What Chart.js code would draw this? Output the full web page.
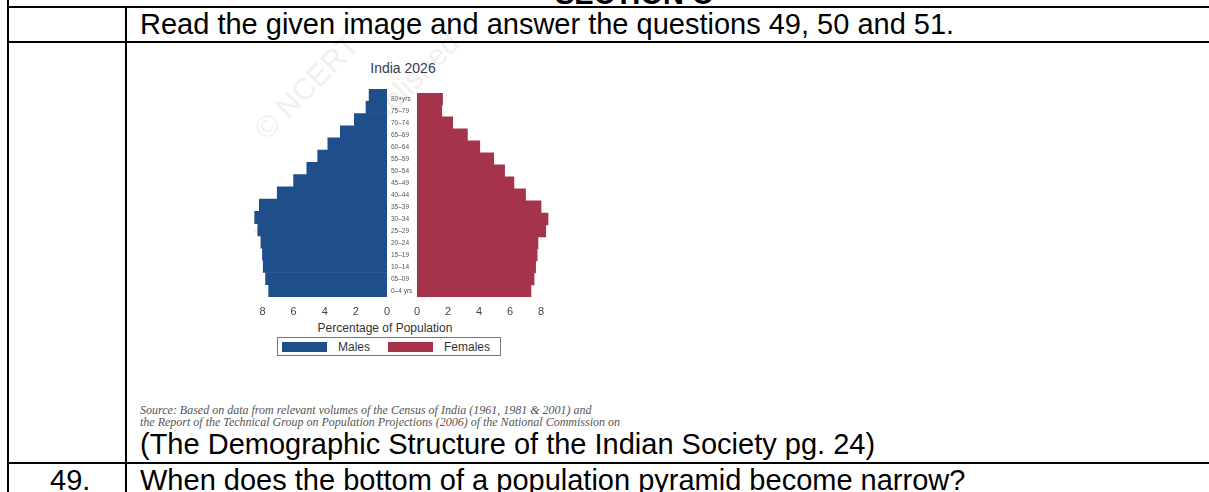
<!DOCTYPE html>
<html>
<head>
<meta charset="utf-8">
<script src="https://cdn.jsdelivr.net/npm/chart.js@4.4.1/dist/chart.umd.min.js"></script>
<style>
    html, body { margin: 0; padding: 0; background: #fff; }
    body { width: 1209px; height: 492px; position: relative; overflow: hidden; font-family: "Liberation Sans", Arial, sans-serif; }
    .hl { position: absolute; height: 2px; background: #000; }
    .vl { position: absolute; width: 2px; background: #000; }
    .big { position: absolute; white-space: nowrap; color: #000; font-size: 29px; line-height: 1; }
    .mark { position: absolute; white-space: nowrap; color: #f0f0f0; font-size: 30px; transform: rotate(-45deg); transform-origin: center; }
    #maleWrap, #femaleWrap { position: absolute; top: 89px; height: 228px; }
    #maleWrap { left: 250px; width: 141px; }
    #femaleWrap { left: 391px; width: 168px; }
    #title { position: absolute; left: 303px; width: 200px; top: 60px; text-align: center; font-size: 14px; color: #343c50; }
    #xTitle { position: absolute; left: 285px; width: 200px; top: 321px; text-align: center; font-size: 12px; color: #333; }
    #legend { position: absolute; left: 277px; top: 337px; width: 218px; height: 17px; border: 1px solid #777; display: flex; align-items: center; padding-left: 4px; box-sizing: content-box; font-size: 12px; color: #333; }
    #legend .sw { width: 45px; height: 10px; margin-right: 11px; }
    #legend .item { display: flex; align-items: center; margin-right: 18px; }
    #source { position: absolute; left: 140px; top: 404px; font-family: "Liberation Serif", serif; font-style: italic; font-size: 12px; line-height: 12px; color: #555; white-space: nowrap; }
</style>
</head>
<body>
<div class="mark" style="left:240px; top:70px;">© NCERT</div>
<div class="mark" style="left:215px; top:120px;">not to be republished</div>

<div class="hl" style="left:7px; top:6px; width:1202px;"></div>
<div class="hl" style="left:7px; top:41px; width:1202px;"></div>
<div class="hl" style="left:7px; top:462px; width:1202px;"></div>
<div class="vl" style="left:7px; top:0; height:492px;"></div>
<div class="vl" style="left:125px; top:6px; height:486px;"></div>

<div class="big" style="left:555px; top:-20px; font-weight:bold;">SECTION C</div>
<div class="big" style="left:140px; top:10px;">Read the given image and answer the questions 49, 50 and 51.</div>
<div class="big" style="left:140px; top:430px;">(The Demographic Structure of the Indian Society pg. 24)</div>
<div class="big" style="left:50px; top:466px;">49.</div>
<div class="big" style="left:140px; top:466px;">When does the bottom of a population pyramid become narrow?</div>

<div id="title">India 2026</div>
<div id="maleWrap"><canvas id="maleChart"></canvas></div>
<div id="femaleWrap"><canvas id="femaleChart"></canvas></div>
<div id="xTitle">Percentage of Population</div>
<div id="legend"></div>
<div id="source">Source: Based on data from relevant volumes of the Census of India (1961, 1981 &amp; 2001) and<br>the Report of the Technical Group on Population Projections (2006) of the National Commission on</div>

<script>
// age groups, youngest first
const ageGroups = ['0–4 yrs', '05–09', '10–14', '15–19', '20–24', '25–29', '30–34', '35–39', '40–44',
    '45–49', '50–54', '55–59', '60–64', '65–69', '70–74', '75–79', '80+yrs'];
// percentage of population
const males = [7.6, 7.8, 7.95, 8.0, 8.1, 8.3, 8.5, 8.2, 7.05, 6.0, 5.15, 4.45, 3.8, 3.0, 2.1, 1.35, 1.15];
const females = [7.35, 7.55, 7.65, 7.75, 7.8, 8.3, 8.45, 8.0, 7.0, 6.25, 5.65, 4.95, 4.05, 3.25, 2.3, 1.6, 1.65];
const xTicks = [0, 2, 4, 6, 8];

const maleColor = '#1f4f8b';
const femaleColor = '#a5344b';

document.addEventListener('DOMContentLoaded', () => {
    Chart.defaults.font.family = '"Liberation Sans", Arial, sans-serif';
    Chart.defaults.animation = false;

    const xAxis = (reverse, max) => ({
        type: 'linear',
        min: 0,
        max: max,
        reverse: reverse,
        grid: { display: false, drawTicks: false },
        border: { display: false },
        afterBuildTicks: axis => { axis.ticks = xTicks.map(v => ({ value: v })); },
        afterFit: axis => { axis.height = 20; },
        ticks: { padding: 8, color: '#444', font: { size: 11 } }
    });

    // Males (left half, axis runs right to left)
    const maleChart = new Chart(document.getElementById('maleChart'), {
        type: 'bar',
        data: {
            labels: ageGroups,
            datasets: [{
                label: 'Males',
                data: males,
                backgroundColor: maleColor,
                borderWidth: 0,
                barPercentage: 1,
                categoryPercentage: 1
            }]
        },
        options: {
            indexAxis: 'y',
            responsive: true,
            maintainAspectRatio: false,
            layout: { padding: { left: 0, right: 4, top: 0, bottom: 0 } },
            plugins: { legend: { display: false }, tooltip: { enabled: false } },
            scales: {
                x: xAxis(true, 8.8),
                y: { display: false, reverse: true }
            }
        }
    });

    // Females (right half, age labels on its left)
    const femaleChart = new Chart(document.getElementById('femaleChart'), {
        type: 'bar',
        data: {
            labels: ageGroups,
            datasets: [{
                label: 'Females',
                data: females,
                backgroundColor: femaleColor,
                borderWidth: 0,
                barPercentage: 1,
                categoryPercentage: 1
            }]
        },
        options: {
            indexAxis: 'y',
            responsive: true,
            maintainAspectRatio: false,
            layout: { padding: { left: 0, right: 4, top: 0, bottom: 0 } },
            plugins: { legend: { display: false }, tooltip: { enabled: false } },
            scales: {
                x: xAxis(false, 8.9),
                y: {
                    reverse: true,
                    grid: { display: false, drawTicks: false },
                    border: { display: false },
                    afterFit: axis => { axis.width = 26; },
                    ticks: { autoSkip: false, crossAlign: 'far', padding: 0, color: '#555', font: { size: 6.5 } }
                }
            }
        }
    });

    // legend from the datasets
    const legend = document.getElementById('legend');
    [maleChart, femaleChart].forEach(ch => {
        const ds = ch.data.datasets[0];
        const item = document.createElement('div');
        item.className = 'item';
        item.innerHTML = '<div class="sw" style="background:' + ds.backgroundColor + '"></div><span>' + ds.label + '</span>';
        legend.appendChild(item);
    });
});
</script>
</body>
</html>
